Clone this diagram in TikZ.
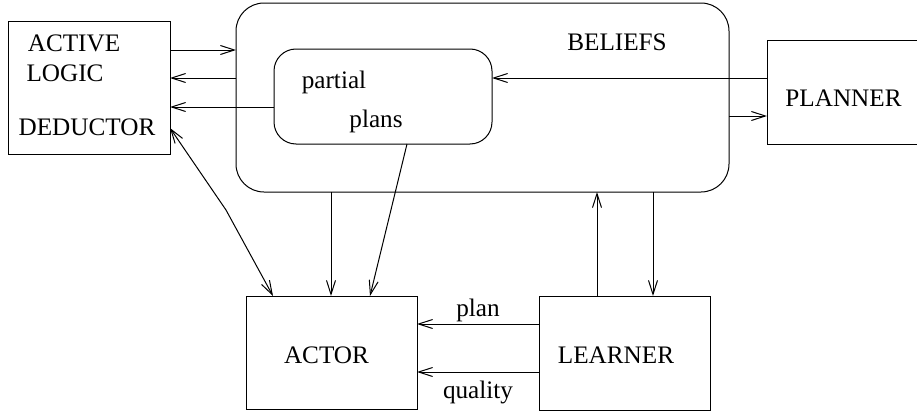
\documentclass[tikz,border=0pt]{standalone}
\usepackage{fontspec}
\setmainfont{Liberation Serif}
\usetikzlibrary{arrows.meta}
\tikzset{
  ->,
  >={Straight Barb[length=7pt,width=4.5pt]},
  every node/.style={font=\fontsize{12.6}{15}\selectfont},
  box/.style={draw, inner sep=0pt, outer sep=0pt},
  rbox/.style={box, rounded corners=#1},
  txt/.style={inner sep=0pt},
}

\begin{document}
\begin{tikzpicture}[x=0.5pt, y=-0.5pt, line width=0.5pt]
      \useasboundingbox (0,0) rectangle (917,412);

      % boxes
      \node[box, minimum width=81pt, minimum height=66.5pt] (ded) at (89,87.5) {};
      \node[rbox=14pt, minimum width=246.5pt, minimum height=94.5pt] (bel) at (482.5,97.5) {};
      \node[rbox=11pt, minimum width=109pt, minimum height=47.5pt] (part) at (383,96.5) {};
      \node[box, minimum width=86.5pt, minimum height=52pt] (pln) at (853.5,92) {};
      \node[box, minimum width=85.5pt, minimum height=56.5pt] (act) at (331.5,352.5) {};
      \node[box, minimum width=85.5pt, minimum height=57pt] (lrn) at (624.5,353) {};

      % texts
      \node[txt] (tActive) at (74,43) {ACTIVE};
      \node[txt] (tLogic) at (65,73) {LOGIC};
      \node[txt] (tDeductor) at (87,127) {DEDUCTOR};
      \node[txt] (tBeliefs) at (617,42) {BELIEFS};
      \node[txt, anchor=base] (tPartial) at (334,88) {partial};
      \node[txt, anchor=base] (tPlans) at (376,127) {plans};
      \node[txt] (tPlanner) at (843.5,98.5) {PLANNER};
      \node[txt] (tActor) at (326.5,355) {ACTOR};
      \node[txt] (tLearner) at (616,355) {LEARNER};

      \coordinate (kink) at (226,210);

      \path (ded.east |- 0,50)  edge (bel.west |- 0,50)
            (bel.west |- 0,78)  edge (ded.east |- 0,78)
            (part.west |- 0,107) edge (ded.east |- 0,107)
            (pln.west |- 0,78)  edge (part.east |- 0,78)
            (bel.east |- 0,116) edge (pln.west |- 0,116)
            (bel.south -| 331,0) edge (act.north -| 331,0)
            (part.south -| 407,0) edge (act.north -| 370,0)
            (lrn.north -| 597,0) edge (bel.south -| 597,0)
            (bel.south -| 653,0) edge (lrn.north -| 653,0)
            (lrn.west |- 0,324) edge node[txt, above=1pt] (tPlan) {plan} (act.east |- 0,324)
            (lrn.west |- 0,372) edge node[txt, below=4.5pt] (tQuality) {quality} (act.east |- 0,372);

      \draw[<->] (ded.east |- 0,128) -- (kink) -- (act.north -| 273,0);
\end{tikzpicture}
\end{document}
